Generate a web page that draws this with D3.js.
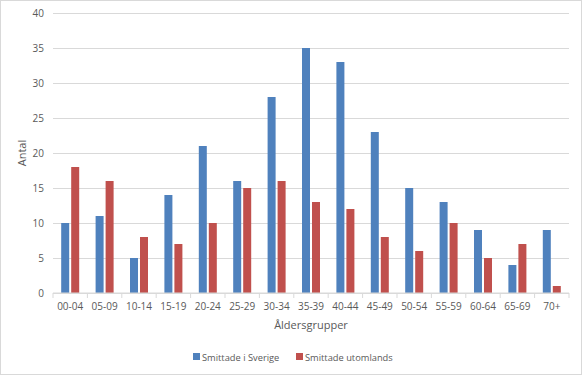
<!DOCTYPE html>
<html>
<head>
<meta charset="utf-8">
<script src="https://cdn.jsdelivr.net/npm/d3@7"></script>
<style>
  body { margin: 0; background: #fff; }
  svg { display: block; font-family: "Open Sans", sans-serif; }
</style>
</head>
<body>
<svg id="chart" width="583" height="376"></svg>
<script>
const ageGroups = ['00-04', '05-09', '10-14', '15-19', '20-24', '25-29', '30-34', '35-39',
  '40-44', '45-49', '50-54', '55-59', '60-64', '65-69', '70+'];
const sverige = [10, 11, 5, 14, 21, 16, 28, 35, 33, 23, 15, 13, 9, 4, 9];
const utomlands = [18, 16, 8, 7, 10, 15, 16, 13, 12, 8, 6, 10, 5, 7, 1];
const seriesNames = ['Smittade i Sverige', 'Smittade utomlands'];
const yTicks = [0, 5, 10, 15, 20, 25, 30, 35, 40];

const colors = ['#4f81bd', '#c0504d'];
const textColor = '#595959';
const gridColor = '#d9d9d9';

const svg = d3.select('#chart');
const width = +svg.attr('width');
const height = +svg.attr('height');

const margin = { top: 13, right: 14, bottom: 83, left: 53 };
const innerWidth = width - margin.left - margin.right;
const innerHeight = height - margin.top - margin.bottom;

// chart border
svg.append('rect')
  .attr('x', 0.5).attr('y', 0.5)
  .attr('width', width - 2).attr('height', height - 2)
  .attr('fill', 'none')
  .attr('stroke', gridColor);

const g = svg.append('g')
  .attr('transform', `translate(${margin.left}, ${margin.top})`);

const xScale = d3.scaleBand()
  .domain(ageGroups)
  .range([0, innerWidth]);

const yScale = d3.scaleLinear()
  .domain([0, 40])
  .range([innerHeight, 0]);

const subScale = d3.scaleBand()
  .domain([0, 1])
  .range([xScale.bandwidth() / 2 - 9, xScale.bandwidth() / 2 + 9])
  .paddingInner(0.2);

// y axis with gridlines
const yAxis = d3.axisLeft(yScale)
  .tickValues(yTicks)
  .tickSize(-innerWidth)
  .tickPadding(9);

g.append('g')
  .attr('class', 'y-axis')
  .call(yAxis)
  .call(ax => {
    ax.select('.domain').remove();
    ax.selectAll('line').attr('stroke', gridColor);
    ax.selectAll('text')
      .attr('fill', textColor)
      .attr('font-size', 10)
      .attr('font-family', '"Open Sans", sans-serif');
  });

// bars
const rows = ageGroups.map((k, i) => ({ key: k, vals: [sverige[i], utomlands[i]] }));

const groups = g.selectAll('.grp').data(rows)
  .enter().append('g')
  .attr('class', 'grp')
  .attr('transform', d => `translate(${xScale(d.key)}, 0)`);

groups.selectAll('rect').data(d => d.vals)
  .enter().append('rect')
  .attr('x', (d, i) => subScale(i))
  .attr('width', subScale.bandwidth())
  .attr('y', d => yScale(d))
  .attr('height', d => innerHeight - yScale(d))
  .attr('fill', (d, i) => colors[i]);

// x axis: ticks at band boundaries
const xAxisG = g.append('g')
  .attr('transform', `translate(0, ${innerHeight})`);

xAxisG.append('line')
  .attr('x1', 0).attr('x2', innerWidth)
  .attr('stroke', gridColor);

const boundaries = ageGroups.map(d => xScale(d)).concat([innerWidth]);
xAxisG.selectAll('.xtick').data(boundaries)
  .enter().append('line')
  .attr('class', 'xtick')
  .attr('x1', d => d).attr('x2', d => d)
  .attr('y1', 0).attr('y2', 5)
  .attr('stroke', gridColor);

xAxisG.selectAll('.xlabel').data(ageGroups)
  .enter().append('text')
  .attr('class', 'xlabel')
  .attr('x', d => xScale(d) + xScale.bandwidth() / 2)
  .attr('y', 17)
  .attr('text-anchor', 'middle')
  .attr('fill', textColor)
  .attr('font-size', 10)
  .text(d => d);

// axis titles
svg.append('text')
  .attr('x', margin.left + innerWidth / 2)
  .attr('y', 329)
  .attr('text-anchor', 'middle')
  .attr('fill', textColor)
  .attr('font-size', 11)
  .text('Åldersgrupper');

svg.append('text')
  .attr('transform', `translate(26, ${margin.top + innerHeight / 2}) rotate(-90)`)
  .attr('text-anchor', 'middle')
  .attr('fill', textColor)
  .attr('font-size', 11)
  .text('Antal');

// legend
const legendX = [193, 296];
const legend = svg.selectAll('.legend').data(seriesNames)
  .enter().append('g')
  .attr('class', 'legend')
  .attr('transform', (d, i) => `translate(${legendX[i]}, 353)`);

legend.append('rect')
  .attr('width', 7).attr('height', 7)
  .attr('fill', (d, i) => colors[i]);

legend.append('text')
  .attr('x', 9)
  .attr('y', 7.5)
  .attr('fill', textColor)
  .attr('font-size', 9.3)
  .text(d => d);
</script>
</body>
</html>
